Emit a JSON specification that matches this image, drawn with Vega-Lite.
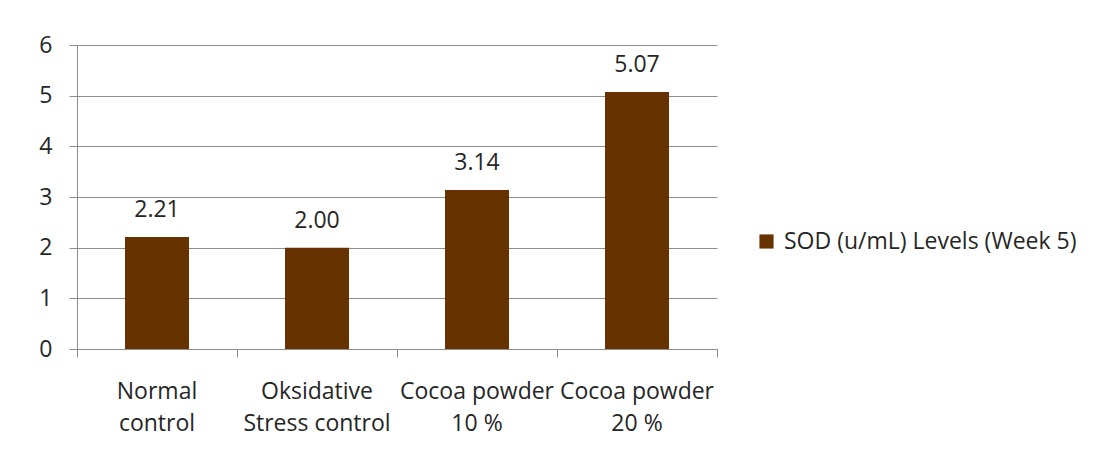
{
  "$schema": "https://vega.github.io/schema/vega-lite/v6.json",
  "width": 640,
  "height": 304,
  "autosize": "none",
  "padding": {"left": 77, "top": 45, "right": 382, "bottom": 114},
  "background": "white",
  "data": {
    "values": [
      {"group": "Normal\ncontrol", "sod": 2.21},
      {"group": "Oksidative\nStress control", "sod": 2.00},
      {"group": "Cocoa powder\n10 %", "sod": 3.14},
      {"group": "Cocoa powder\n20 %", "sod": 5.07}
    ]
  },
  "encoding": {
    "x": {
      "field": "group",
      "type": "nominal",
      "sort": null,
      "scale": {"paddingInner": 0, "paddingOuter": 0},
      "axis": {
        "title": null,
        "labelAngle": 0,
        "bandPosition": 1,
        "tickExtra": true,
        "labelExpr": "split(datum.label, '\\n')",
        "labelLineHeight": 32,
        "labelPadding": 23,
        "tickSize": 8,
        "labelBaseline": "top"
      }
    },
    "y": {
      "field": "sod",
      "type": "quantitative",
      "scale": {"domain": [0, 6], "nice": false},
      "axis": {
        "title": null,
        "values": [0, 1, 2, 3, 4, 5, 6],
        "tickSize": 8,
        "labelPadding": 17,
        "grid": true
      }
    }
  },
  "layer": [
    {
      "mark": {"type": "bar", "width": {"band": 0.4}},
      "encoding": {
        "color": {
          "datum": "SOD (u/mL) Levels (Week 5)",
          "type": "nominal",
          "scale": {"range": ["#663300"]},
          "legend": {
            "title": null,
            "orient": "none",
            "legendX": 678,
            "legendY": 185,
            "symbolType": "square",
            "symbolSize": 200,
            "symbolStrokeWidth": 0,
            "labelOffset": 6,
            "padding": 0
          }
        }
      }
    },
    {
      "mark": {"type": "text", "baseline": "alphabetic", "dy": -20},
      "encoding": {
        "text": {"field": "sod", "type": "quantitative", "format": ".2f"}
      }
    }
  ],
  "config": {
    "font": "Open Sans",
    "view": {"stroke": null},
    "text": {"font": "Open Sans", "fontSize": 23, "color": "#262626"},
    "axis": {
      "domainColor": "#8c8c8c",
      "tickColor": "#8c8c8c",
      "gridColor": "#8c8c8c",
      "domainWidth": 1,
      "tickWidth": 1,
      "gridWidth": 1,
      "labelFont": "Open Sans",
      "labelFontSize": 23,
      "labelColor": "#262626"
    },
    "axisX": {"grid": false},
    "legend": {
      "labelFont": "Open Sans",
      "labelFontSize": 23,
      "labelColor": "#262626",
      "labelLimit": 400
    }
  }
}
